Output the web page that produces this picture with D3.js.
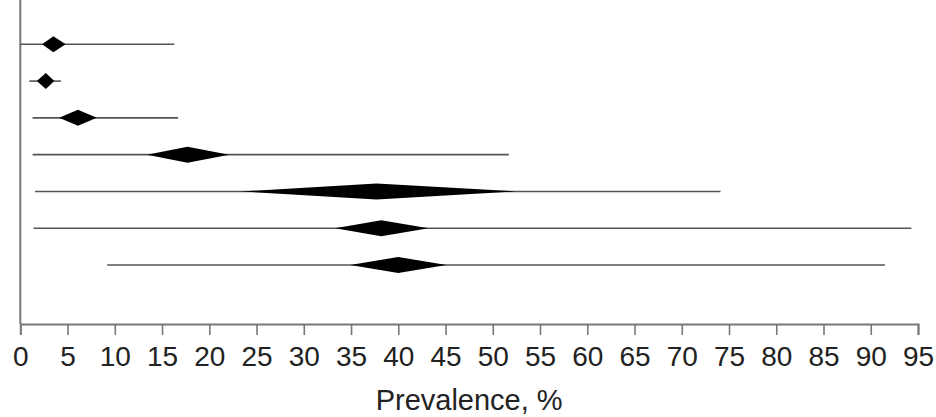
<!DOCTYPE html>
<html>
<head>
<meta charset="utf-8">
<script src="https://cdn.jsdelivr.net/npm/d3@7"></script>
<style>
  body { margin: 0; background: #fff; }
  svg text { font-family: "Liberation Sans", Arial, sans-serif; fill: #222; }
</style>
</head>
<body>
<div id="chart"></div>
<script>
// one entry per study row, top to bottom
const rows = ["r1", "r2", "r3", "r4", "r5", "r6", "r7"];
// outer line (prediction interval)
const lineLow  = [0.0, 0.95, 1.3, 1.3, 1.55, 1.4, 9.2];
const lineHigh = [16.3, 4.3, 16.7, 51.7, 74.1, 94.3, 91.5];
// diamond (estimate and CI)
const ciLow    = [2.3, 1.75, 4.1, 13.4, 23.3, 33.3, 34.9];
const estimate = [3.5, 2.7, 6.1, 17.7, 37.7, 38.2, 40.0];
const ciHigh   = [4.8, 3.6, 8.1, 22.1, 52.5, 43.2, 45.1];
const xTicks = d3.range(0, 96, 5);

const width = 936, height = 417;
const margin = {top: 0, left: 20.3, right: 18, axisY: 324};

const svg = d3.select("#chart").append("svg")
    .attr("width", width)
    .attr("height", height);

const x = d3.scaleLinear().domain([0, 95]).range([margin.left, width - margin.right]);
const y = d3.scalePoint().domain(rows).range([44.3, 265]);

const data = rows.map((r, i) => ({
    row: r, lo: lineLow[i], hi: lineHigh[i],
    cl: ciLow[i], est: estimate[i], ch: ciHigh[i]
}));

// x axis
const xAxis = svg.append("g")
    .attr("transform", "translate(0," + margin.axisY + ")")
    .call(d3.axisBottom(x).tickValues(xTicks).tickSize(11).tickPadding(11));
xAxis.select(".domain").attr("stroke", "#777").attr("stroke-width", 2);
xAxis.selectAll(".tick line").attr("stroke", "#777").attr("stroke-width", 1.6);
xAxis.selectAll(".tick text").attr("font-size", 28).attr("fill", "#222")
    .attr("font-family", "'Liberation Sans', Arial, sans-serif");

// y axis line
svg.append("line")
    .attr("x1", x(0)).attr("x2", x(0))
    .attr("y1", 0).attr("y2", margin.axisY)
    .attr("stroke", "#777").attr("stroke-width", 2);

// axis title
svg.append("text")
    .attr("x", (x(0) + x(95)) / 2)
    .attr("y", 410)
    .attr("text-anchor", "middle")
    .attr("font-size", 29)
    .text("Prevalence, %");

// interval lines
svg.selectAll(".pi").data(data).enter().append("line")
    .attr("class", "pi")
    .attr("x1", d => x(d.lo)).attr("x2", d => x(d.hi))
    .attr("y1", d => y(d.row)).attr("y2", d => y(d.row))
    .attr("stroke", "#555").attr("stroke-width", 1.6);

// diamonds
const half = 8;
svg.selectAll(".diamond").data(data).enter().append("path")
    .attr("class", "diamond")
    .attr("d", d => {
        const cy = y(d.row);
        return "M" + x(d.cl) + "," + cy +
            "L" + x(d.est) + "," + (cy - half) +
            "L" + x(d.ch) + "," + cy +
            "L" + x(d.est) + "," + (cy + half) + "Z";
    })
    .attr("fill", "#000");
</script>
</body>
</html>
